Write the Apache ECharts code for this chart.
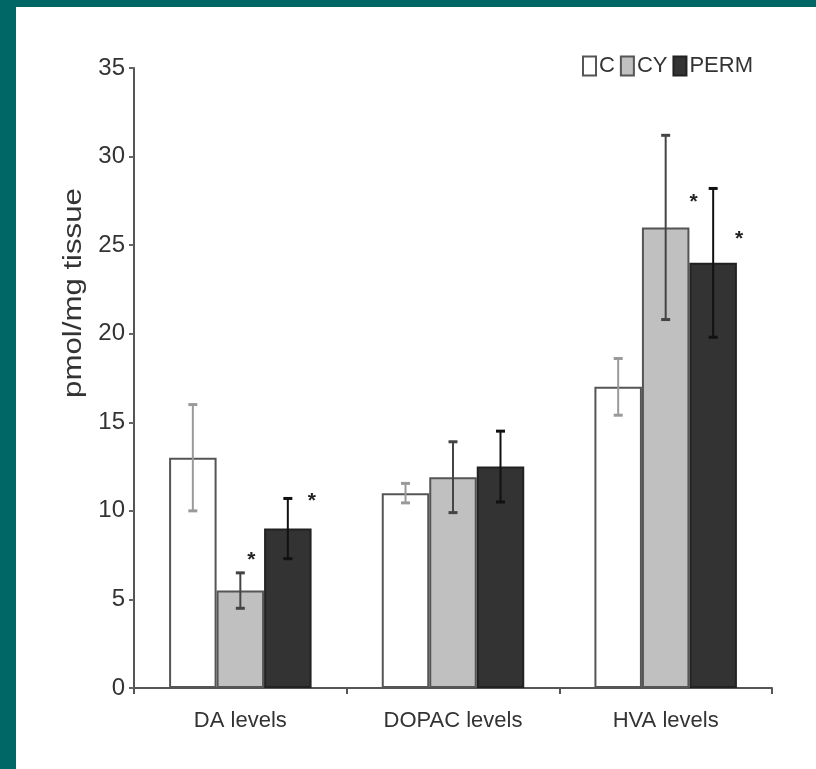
<!DOCTYPE html>
<html>
<head>
<meta charset="utf-8">
<script src="https://cdn.jsdelivr.net/npm/echarts@6/dist/echarts.min.js"></script>
<style>
html,body{margin:0;padding:0;background:#fff;}
#frameL{position:absolute;left:0;top:0;width:16px;height:769px;background:#006666;}
#frameT{position:absolute;left:0;top:0;width:816px;height:7px;background:#006666;}
#chart{position:absolute;left:0;top:0;width:816px;height:769px;}
</style>
</head>
<body>
<div id="frameL"></div><div id="frameT"></div>
<div id="chart"></div>
<script>
// ---- data ----
const categories = ['DA levels', 'DOPAC levels', 'HVA levels'];
const seriesNames = ['C', 'CY', 'PERM'];
const valuesC = [13, 11, 17];
const valuesCY = [5.5, 11.9, 26];
const valuesPERM = [9, 12.5, 24];
const errC = [3, 0.55, 1.6];
const errCY = [1, 2, 5.2];
const errPERM = [1.7, 2, 4.2];
const starCY = [7.5, null, 27.7];
const starPERM = [10.8, null, 25.6];
const yTitle = 'pmol/mg tissue';

// ---- styles ----
const FONT = "'Liberation Sans', Arial, sans-serif";
const GAP = 0.33;
const fills = ['#ffffff', '#c0c0c0', '#333333'];
const borders = ['#555555', '#555555', '#222222'];
const errColors = ['#9a9a9a', '#444444', '#111111'];
const starDx = [[0, 0, 0], [11, 0, 28], [24, 0, 26]];

const chart = echarts.init(document.getElementById('chart'));

function errSeries(k, vals, errs) {
  return {
    type: 'custom', name: seriesNames[k] + ' err', z: 5, silent: true,
    data: vals.map((v, i) => [i, v, errs[i]]),
    renderItem: function (params, api) {
      const i = api.value(0), v = api.value(1), e = api.value(2);
      const c = api.coord([i, v]);
      const catW = api.size([1, 0])[0];
      const bw = catW * (1 - GAP) / 3;
      const x = c[0] + (k - 1) * bw;
      const yt = api.coord([i, v + e])[1];
      const yb = api.coord([i, v - e])[1];
      const st = { stroke: errColors[k], lineWidth: 2 };
      const cap = { stroke: errColors[k], lineWidth: 3 };
      return { type: 'group', children: [
        { type: 'line', shape: { x1: x, y1: yt, x2: x, y2: yb }, style: st },
        { type: 'line', shape: { x1: x - 4.5, y1: yt, x2: x + 4.5, y2: yt }, style: cap },
        { type: 'line', shape: { x1: x - 4.5, y1: yb, x2: x + 4.5, y2: yb }, style: cap }
      ]};
    }
  };
}

function starSeries(k, stars) {
  return {
    type: 'custom', name: seriesNames[k] + ' sig', z: 6, silent: true,
    data: stars.map((v, i) => [i, v]).filter(d => d[1] !== null),
    renderItem: function (params, api) {
      const i = api.value(0), v = api.value(1);
      const c = api.coord([i, v]);
      const catW = api.size([1, 0])[0];
      const bw = catW * (1 - GAP) / 3;
      const x = c[0] + (k - 1) * bw + starDx[k][i];
      return { type: 'text', x: x, y: c[1] + 5,
        style: { text: '*', fill: '#222', font: 'bold 21px ' + FONT, align: 'center', verticalAlign: 'middle' } };
    }
  };
}

const barVals = [valuesC, valuesCY, valuesPERM];
const option = {
  backgroundColor: 'transparent',
  animation: false,
  grid: { left: 134, right: 44, top: 68, bottom: 81, containLabel: false },
  legend: {
    data: seriesNames, left: 577, top: 50, icon: 'rect', itemWidth: 13, itemHeight: 19,
    itemGap: 5, textStyle: { fontFamily: FONT, fontSize: 22, color: '#333', padding: [0, 0, 0, -2] }
  },
  xAxis: {
    type: 'category', data: categories,
    axisLine: { lineStyle: { color: '#555', width: 2 } },
    axisTick: { show: true, length: 6, lineStyle: { color: '#555', width: 2 } },
    axisLabel: { fontFamily: FONT, fontSize: 22, color: '#333', margin: 22 }
  },
  yAxis: {
    type: 'value', min: 0, max: 35, interval: 5,
    axisLine: { show: true, lineStyle: { color: '#555', width: 2 } },
    axisTick: { show: true, length: 5, lineStyle: { color: '#666', width: 2 } },
    axisLabel: { fontFamily: FONT, fontSize: 24, color: '#333', margin: 9 },
    splitLine: { show: false }
  },
  graphic: [{
    type: 'text', x: 74, y: 293, rotation: Math.PI / 2, scaleX: 1.2,
    style: { text: yTitle, font: '26px ' + FONT, fill: '#333', align: 'center', verticalAlign: 'middle' }
  }],
  series: [0, 1, 2].map(k => ({
    type: 'bar', name: seriesNames[k], data: barVals[k],
    barGap: '0%', barCategoryGap: (GAP * 100) + '%',
    itemStyle: { color: fills[k], borderColor: borders[k], borderWidth: 2 }
  })).concat([
    errSeries(0, valuesC, errC), errSeries(1, valuesCY, errCY), errSeries(2, valuesPERM, errPERM),
    starSeries(1, starCY), starSeries(2, starPERM)
  ])
};
chart.setOption(option);
</script>
</body>
</html>
